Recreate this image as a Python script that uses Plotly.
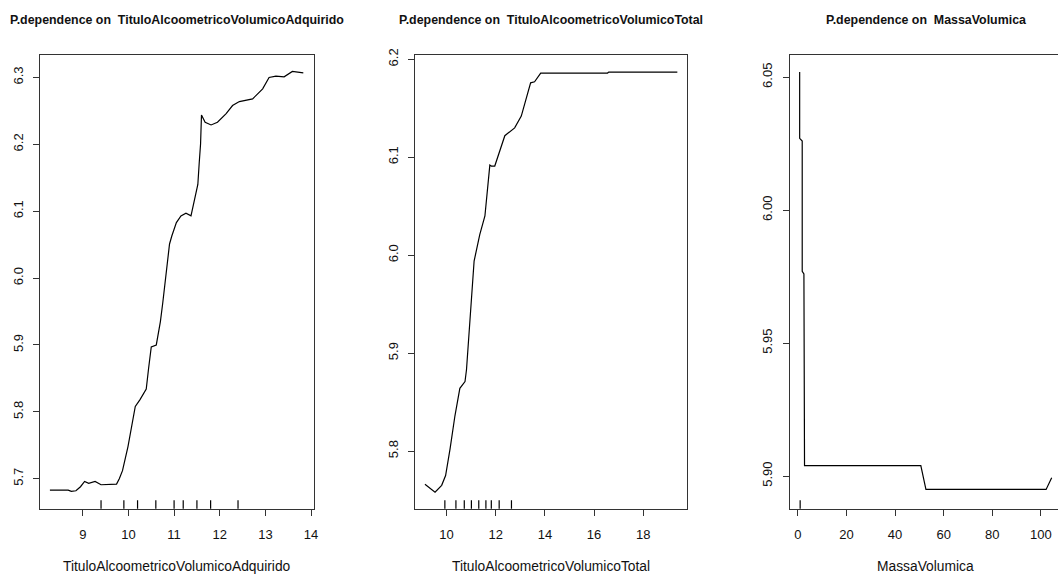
import plotly.graph_objects as go

W, H = 1062, 574

# ---- data ----
pd1_x = [8.28, 8.68, 8.75, 8.85, 8.95, 9.04, 9.13, 9.27, 9.40, 9.54, 9.60, 9.74, 9.80, 9.87,
         9.99, 10.08, 10.15, 10.25, 10.39, 10.44, 10.50, 10.61, 10.70, 10.75, 10.83, 10.90,
         10.95, 11.05, 11.15, 11.26, 11.37, 11.45, 11.52, 11.55, 11.58, 11.60, 11.68, 11.81,
         11.95, 12.14, 12.28, 12.43, 12.72, 12.94, 13.08, 13.23, 13.41, 13.59, 13.83]
pd1_y = [5.683, 5.683, 5.681, 5.682, 5.688, 5.696, 5.693, 5.696, 5.691, 5.691, 5.692, 5.692,
         5.700, 5.712, 5.748, 5.783, 5.808, 5.818, 5.834, 5.864, 5.897, 5.900, 5.935, 5.962,
         6.012, 6.051, 6.063, 6.083, 6.093, 6.097, 6.093, 6.118, 6.140, 6.172, 6.201, 6.244,
         6.233, 6.229, 6.233, 6.246, 6.258, 6.264, 6.268, 6.283, 6.300, 6.302, 6.301, 6.309,
         6.307]
rug1 = [9.4, 9.9, 10.2, 10.6, 11.0, 11.2, 11.5, 11.8, 12.4]

pd2_x = [9.12, 9.53, 9.80, 9.96, 10.14, 10.34, 10.54, 10.75, 10.81, 10.92, 10.98, 11.01,
         11.12, 11.35, 11.56, 11.76, 11.82, 11.96, 12.37, 12.77, 13.04, 13.42, 13.58, 13.83,
         16.55, 16.60, 19.39]
pd2_y = [5.766, 5.758, 5.765, 5.775, 5.802, 5.836, 5.864, 5.871, 5.883, 5.920, 5.940, 5.952,
         5.994, 6.021, 6.040, 6.092, 6.091, 6.091, 6.122, 6.130, 6.142, 6.176, 6.177, 6.186,
         6.186, 6.187, 6.187]
rug2 = [9.93, 10.38, 10.72, 11.01, 11.31, 11.60, 11.82, 12.14, 12.64]

pd3_x = [0.70, 0.70, 1.75, 1.75, 2.45, 2.50, 2.65, 2.70, 50.6, 52.7, 102.2, 104.5]
pd3_y = [6.052, 6.027, 6.026, 5.977, 5.976, 5.928, 5.927, 5.9039, 5.9039, 5.895, 5.895, 5.8994]
rug3 = [0.9]

titles = ["P.dependence on\u00a0 TituloAlcoometricoVolumicoAdquirido",
          "P.dependence on\u00a0 TituloAlcoometricoVolumicoTotal",
          "P.dependence on\u00a0 MassaVolumica"]
xlabels = ["TituloAlcoometricoVolumicoAdquirido", "TituloAlcoometricoVolumicoTotal", "MassaVolumica"]

x_ticks = [[9, 10, 11, 12, 13, 14], [10, 12, 14, 16, 18], [0, 20, 40, 60, 80, 100]]
y_ticks = [[5.7, 5.8, 5.9, 6.0, 6.1, 6.2, 6.3], [5.8, 5.9, 6.0, 6.1, 6.2], [5.90, 5.95, 6.00, 6.05]]
y_fmt = [".1f", ".1f", ".2f"]

# ---- layout geometry (pixels) ----
boxes = [(40, 315), (416.7, 690), (792.7, 1062)]
top_px, bot_px = 49, 508
x_ranges = [[8.06, 14.06], [8.72, 19.80], [-3.4, 107.1]]
y_ranges = [[5.655, 6.333], [5.741, 6.204], [5.8877, 6.0582]]

fig = go.Figure()
series = [(pd1_x, pd1_y, rug1), (pd2_x, pd2_y, rug2), (pd3_x, pd3_y, rug3)]
axcol = "#333333"
font_fam = "Liberation Sans, Arial, sans-serif"

layout = dict(width=W, height=H, autosize=False, margin=dict(l=0, r=0, t=0, b=0),
              paper_bgcolor="white", plot_bgcolor="white", showlegend=False,
              font=dict(family=font_fam, size=12, color="#111"))
shapes, annotations = [], []

for i, (xs, ys, rug) in enumerate(series):
    n = "" if i == 0 else str(i + 1)
    xa, ya = "x" + n, "y" + n
    fig.add_trace(go.Scatter(x=xs, y=ys, mode="lines", xaxis=xa, yaxis=ya,
                             line=dict(color="black", width=1.2), hoverinfo="skip"))
    l, r = boxes[i]
    layout["xaxis" + n] = dict(
        domain=[l / W, r / W], range=x_ranges[i], anchor=ya, showgrid=False, zeroline=False,
        showline=True, linecolor=axcol, linewidth=1.3, mirror=True,
        ticks="outside", ticklen=6, tickcolor=axcol, tickwidth=1.2,
        tickvals=x_ticks[i], ticklabelstandoff=7, tickfont=dict(size=13, color="#111"))
    layout["yaxis" + n] = dict(
        domain=[1 - bot_px / H, 1 - top_px / H], range=y_ranges[i], anchor=xa,
        showgrid=False, zeroline=False,
        showline=True, linecolor=axcol, linewidth=1.3, mirror=(i < 2),
        ticks="outside", ticklen=6, tickcolor=axcol, tickwidth=1.2,
        tickvals=y_ticks[i], tickformat=y_fmt[i], tickangle=-90, ticklabelstandoff=5,
        tickfont=dict(size=13, color="#111"))
    for rx in rug:
        shapes.append(dict(type="line", xref=xa, yref=ya + " domain", x0=rx, x1=rx,
                           y0=0, y1=0.019, line=dict(color="black", width=1.2)))
    cx = (l + boxes[i][1]) / 2 if i < 2 else (l + 1066) / 2
    annotations.append(dict(text="<b>" + titles[i] + "</b>", xref="paper", yref="paper",
                            x=cx / W, y=1 - 13 / H, xanchor="center", yanchor="middle",
                            showarrow=False, font=dict(size=12.4, color="#111")))
    annotations.append(dict(text=xlabels[i], xref="paper", yref="paper",
                            x=cx / W, y=1 - 566 / H, xanchor="center", yanchor="middle",
                            showarrow=False, font=dict(size=13.8, color="#111")))

layout["shapes"] = shapes
layout["annotations"] = annotations
fig.update_layout(**layout)
fig.write_html("out.html")
